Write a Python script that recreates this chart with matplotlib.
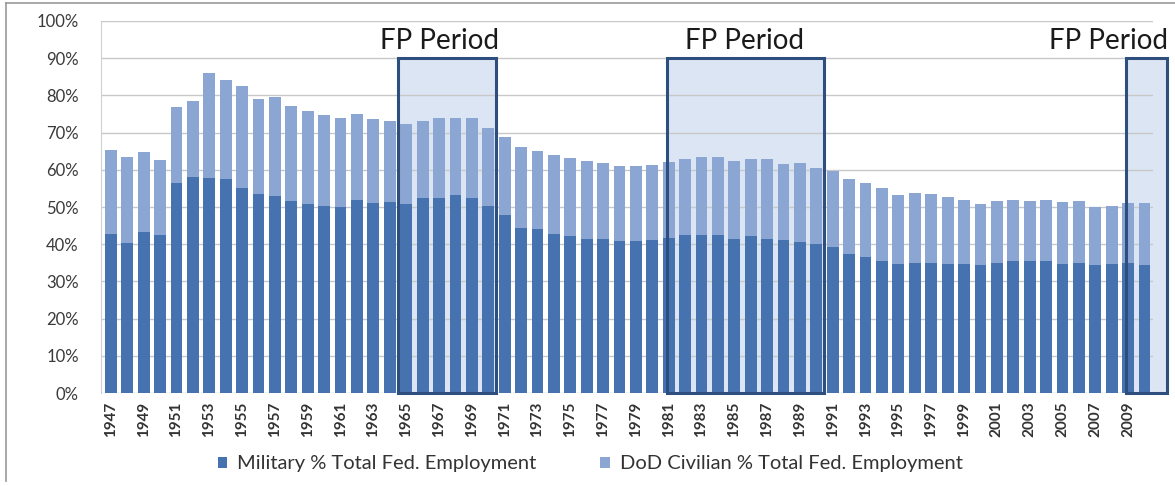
import matplotlib
matplotlib.use("Agg")
import matplotlib.pyplot as plt
from matplotlib.patches import Rectangle
import numpy as np

years = list(range(1947, 2011))

# military share of total federal employment (%)
military = [42.7, 40.4, 43.2, 42.5, 56.5, 58.0, 57.8, 57.6, 55.1, 53.4,
            53.0, 51.5, 50.7, 50.3, 49.9, 52.0, 51.1, 51.3, 50.8, 52.3,
            52.5, 53.2, 52.5, 50.3, 47.8, 44.5, 44.2, 42.7, 42.2, 41.3,
            41.3, 40.9, 40.9, 41.1, 41.8, 42.6, 42.6, 42.6, 41.3, 42.2,
            41.5, 41.1, 40.7, 40.2, 39.3, 37.4, 36.6, 35.6, 34.8, 35.0,
            35.0, 34.8, 34.6, 34.4, 35.1, 35.6, 35.5, 35.6, 34.7, 35.0,
            34.5, 34.7, 34.9, 34.4]

# military + DoD civilian (%)
total = [65.3, 63.4, 64.8, 62.7, 77.0, 78.4, 86.0, 84.1, 82.4, 78.9,
         79.6, 77.2, 75.8, 74.6, 73.9, 74.9, 73.7, 73.0, 72.3, 73.0,
         73.8, 73.8, 73.8, 71.1, 68.9, 66.2, 65.1, 64.0, 63.1, 62.3,
         61.7, 61.1, 61.0, 61.3, 62.1, 62.8, 63.4, 63.4, 62.5, 63.0,
         62.8, 61.6, 61.8, 60.4, 59.8, 57.6, 56.4, 55.1, 53.2, 53.8,
         53.5, 52.6, 51.9, 50.8, 51.5, 52.0, 51.7, 52.0, 51.3, 51.7,
         50.1, 50.3, 51.0, 51.2]

civilian = [t - m for t, m in zip(total, military)]

# FP period boxes (left edge, right edge in year units) and label centres
box_edges = [(1964.5, 1970.5), (1980.9, 1990.45), (2008.9, 2011.35)]
label_x = [1967.05, 1985.65, 2007.8]

plt.rcParams['font.family'] = ['Lato', 'DejaVu Sans']

fig = plt.figure(figsize=(11.75, 4.86), dpi=100)
ax = fig.add_axes([0.086, 0.191, 0.895, 0.766])

x = np.array(years)
ax.bar(x, military, width=0.72, color='#4673b0', zorder=2,
       label='Military % Total Fed. Employment')
ax.bar(x, civilian, width=0.72, bottom=military, color='#8ba6d3', zorder=2,
       label='DoD Civilian % Total Fed. Employment')

for (x0, x1) in box_edges:
    # light fill behind the bars, dark outline on top
    ax.add_patch(Rectangle((x0, 0), x1 - x0, 90, facecolor='#dbe5f3',
                           edgecolor='none', zorder=0.5, clip_on=False))
    ax.add_patch(Rectangle((x0, 0), x1 - x0, 90, facecolor='none',
                           edgecolor='#2e4f7e', linewidth=2.2,
                           zorder=4, clip_on=False))

for lx in label_x:
    ax.text(lx, 94.5, 'FP Period', fontsize=20, color='#1a1a1a',
            ha='center', va='center', zorder=5)

ax.set_xlim(1946.4, 2010.5)
ax.set_ylim(0, 100)
ax.set_yticks(range(0, 101, 10))
ax.set_yticklabels([f'{v}%' for v in range(0, 101, 10)], fontsize=12,
                   color='#3a3a3a')
ax.set_xticks(years[::2])
ax.set_xticklabels([str(y) for y in years[::2]], rotation=90, fontsize=11,
                   color='#333333', fontweight='bold')
ax.tick_params(axis='y', length=0, pad=16)
ax.tick_params(axis='x', length=0, pad=6)
ax.grid(axis='y', color='#c8c8c8', linewidth=1, zorder=1)
for side in ['top', 'right', 'bottom']:
    ax.spines[side].set_visible(False)
ax.spines['left'].set_color('#d0d0d0')

ax.legend(loc='center', bbox_to_anchor=(0.465, -0.19), ncol=2,
          frameon=False, fontsize=14.5, handlelength=0.45, handleheight=0.45,
          handletextpad=0.5, columnspacing=3.2, labelcolor='#333333')

# outer frame
fig.add_artist(plt.Line2D([0.005, 0.005], [0.01, 0.994], color='#999999',
                          linewidth=1.2, transform=fig.transFigure))
fig.add_artist(plt.Line2D([0.005, 1.0], [0.994, 0.994], color='#999999',
                          linewidth=1.2, transform=fig.transFigure))

fig.savefig('out.png', dpi=100)
